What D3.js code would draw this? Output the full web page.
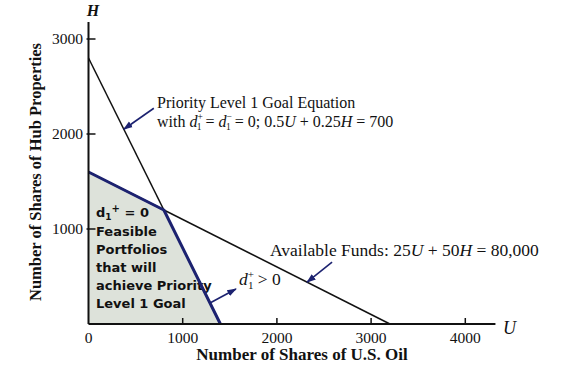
<!DOCTYPE html>
<html><head><meta charset="utf-8">
<script src="https://cdn.jsdelivr.net/npm/d3@7"></script>
<style>body{margin:0;background:#fff}svg{display:block}</style>
</head><body>
<svg id="c" width="569" height="365"></svg>
<script>
// ---- data ----
const xTicks = [0, 1000, 2000, 3000, 4000];
const yTicks = [1000, 2000, 3000];
const goalLine = [[0, 2800], [1400, 0]];        // 0.5U + 0.25H = 700
const fundsLine = [[0, 1600], [3200, 0]];       // 25U + 50H = 80,000
const feasibleRegion = [[0, 0], [0, 1600], [800, 1200], [1400, 0]];
const feasibleBoundary = [[0, 1600], [800, 1200], [1400, 0]];
const regionLabel = ["Feasible", "Portfolios", "that will", "achieve Priority", "Level 1 Goal"];
const xTitle = "Number of Shares of U.S. Oil";
const yTitle = "Number of Shares of Hub Properties";

// ---- layout ----
const svg = d3.select("#c");
const x = d3.scaleLinear().domain([0, 4320]).range([88.5, 88.5 + 4.32 * 94.2]);
const y = d3.scaleLinear().domain([0, 3180]).range([324, 324 - 3.18 * 95]);
const line = d3.line().x(d => x(d[0])).y(d => y(d[1]));
const navy = "#1c2270";
const serif = "'Liberation Serif','Times New Roman',serif";

svg.append("defs").append("marker")
  .attr("id", "ah").attr("viewBox", "0 0 10 10").attr("refX", 9).attr("refY", 5)
  .attr("markerWidth", 6).attr("markerHeight", 6).attr("orient", "auto")
  .append("path").attr("d", "M0,1.5 L10,5 L0,8.5 Z").attr("fill", navy);

// shaded region
svg.append("path").datum(feasibleRegion)
  .attr("d", d => line(d) + "Z")
  .attr("fill", "#dde2da").attr("stroke", "none");

// region text
const rt = svg.append("text").attr("font-family", "'DejaVu Sans',sans-serif")
  .attr("font-weight", "bold").attr("font-size", 13).attr("fill", "#111");
const t0 = rt.append("tspan").attr("x", 96).attr("y", 217);
t0.append("tspan").text("d");
t0.append("tspan").attr("font-size", 9).attr("dy", 3).text("1");
t0.append("tspan").attr("font-size", 10).attr("dy", -8).text("+");
t0.append("tspan").attr("dy", 5).text(" = 0");
regionLabel.forEach((s, i) => {
  rt.append("tspan").attr("x", 96).attr("y", 235.5 + i * 18.2).text(s);
});

// lines
svg.append("path").datum(goalLine).attr("d", line)
  .attr("stroke", "#111").attr("stroke-width", 1.5).attr("fill", "none");
svg.append("path").datum(fundsLine).attr("d", line)
  .attr("stroke", "#111").attr("stroke-width", 1.5).attr("fill", "none");
svg.append("path").datum(feasibleBoundary).attr("d", line)
  .attr("stroke", navy).attr("stroke-width", 3).attr("fill", "none")
  .attr("stroke-linejoin", "round");

// axes
const axisG = svg.append("g").attr("stroke", "#111");
axisG.append("line").attr("x1", x(0)).attr("x2", x(4320)).attr("y1", y(0)).attr("y2", y(0)).attr("stroke-width", 2);
axisG.append("line").attr("x1", x(0)).attr("x2", x(0)).attr("y1", y(0)).attr("y2", y(3180)).attr("stroke-width", 2);
xTicks.filter(d => d > 0).forEach(d => {
  axisG.append("line").attr("x1", x(d)).attr("x2", x(d)).attr("y1", y(0)).attr("y2", y(0) - 6).attr("stroke-width", 1.5);
});
yTicks.forEach(d => {
  axisG.append("line").attr("x1", x(0) - 2).attr("x2", x(0) + 7).attr("y1", y(d)).attr("y2", y(d)).attr("stroke-width", 1.5);
});
svg.append("g").selectAll("text").data(xTicks).join("text")
  .attr("x", d => x(d)).attr("y", 343).attr("text-anchor", "middle")
  .attr("font-family", serif).attr("font-size", 15.5).attr("fill", "#111").text(d => d);
svg.append("g").selectAll("text").data(yTicks).join("text")
  .attr("x", 83).attr("y", d => y(d) + 5).attr("text-anchor", "end")
  .attr("font-family", serif).attr("font-size", 15.5).attr("fill", "#111").text(d => d);

// axis letters
svg.append("text").attr("x", 93).attr("y", 16).attr("text-anchor", "middle")
  .attr("font-family", serif).attr("font-style", "italic").attr("font-weight", "bold")
  .attr("font-size", 16).attr("fill", "#111").text("H");
svg.append("text").attr("x", 503).attr("y", 334)
  .attr("font-family", serif).attr("font-style", "italic")
  .attr("font-size", 18).attr("fill", "#111").text("U");

// titles
svg.append("text").attr("x", 302).attr("y", 360).attr("text-anchor", "middle")
  .attr("font-family", serif).attr("font-weight", "bold").attr("font-size", 17)
  .attr("fill", "#111").text(xTitle);
svg.append("text").attr("transform", "translate(41,172) rotate(-90)").attr("text-anchor", "middle")
  .attr("font-family", serif).attr("font-weight", "bold").attr("font-size", 16.5)
  .attr("fill", "#111").text(yTitle);

// annotation: goal equation
svg.append("text").attr("x", 157).attr("y", 107.5)
  .attr("font-family", serif).attr("font-size", 16).attr("fill", "#111")
  .text("Priority Level 1 Goal Equation");
const l2 = svg.append("text").attr("x", 157).attr("y", 127)
  .attr("font-family", serif).attr("font-size", 16).attr("fill", "#111");
l2.append("tspan").text("with ");
l2.append("tspan").attr("font-style", "italic").text("d");
l2.append("tspan").attr("font-size", 9.5).attr("dy", -7).text("+");
l2.append("tspan").attr("font-size", 9.5).attr("dx", -6).attr("dy", 10).text("1");
l2.append("tspan").attr("dy", -3).text(" = ");
l2.append("tspan").attr("font-style", "italic").text("d");
l2.append("tspan").attr("font-size", 9.5).attr("dy", -7).text("−");
l2.append("tspan").attr("font-size", 9.5).attr("dx", -6).attr("dy", 10).text("1");
l2.append("tspan").attr("dy", -3).text(" = 0; 0.5");
l2.append("tspan").attr("font-style", "italic").text("U");
l2.append("tspan").text(" + 0.25");
l2.append("tspan").attr("font-style", "italic").text("H");
l2.append("tspan").text(" = 700");

// annotation: funds
const f1 = svg.append("text").attr("x", 270).attr("y", 256)
  .attr("font-family", serif).attr("font-size", 17.5).attr("fill", "#111");
f1.append("tspan").text("Available Funds:  25");
f1.append("tspan").attr("font-style", "italic").text("U");
f1.append("tspan").text(" + 50");
f1.append("tspan").attr("font-style", "italic").text("H");
f1.append("tspan").text(" = 80,000");

// annotation: d1+ > 0
const d1 = svg.append("text").attr("x", 239).attr("y", 285)
  .attr("font-family", serif).attr("font-size", 17.5).attr("fill", "#111");
d1.append("tspan").attr("font-style", "italic").text("d");
d1.append("tspan").attr("font-size", 11).attr("dy", -7).text("+");
d1.append("tspan").attr("font-size", 11).attr("dx", -6).attr("dy", 11).text("1");
d1.append("tspan").attr("dy", -4).text(" > 0");

// arrows (tips anchored on the lines via scales)
const arrows = [
  { tip: [375, 2800 - 2 * 375], dx: 30, dy: -21 },
  { tip: [2320, (80000 - 25 * 2320) / 50], dx: 25, dy: -20 },
];
arrows.forEach(a => {
  const tx = x(a.tip[0]), ty = y(a.tip[1]);
  svg.append("line").attr("x1", tx + a.dx).attr("y1", ty + a.dy).attr("x2", tx).attr("y2", ty)
    .attr("stroke", navy).attr("stroke-width", 1.6).attr("marker-end", "url(#ah)");
});
// arrow from goal line outward to d1+ label
const sU = (2800 - 221) / 2;
svg.append("line").attr("x1", x(sU)).attr("y1", y(221)).attr("x2", x(sU) + 26).attr("y2", y(221) - 14)
  .attr("stroke", navy).attr("stroke-width", 1.6).attr("marker-end", "url(#ah)");
</script>
</body></html>
